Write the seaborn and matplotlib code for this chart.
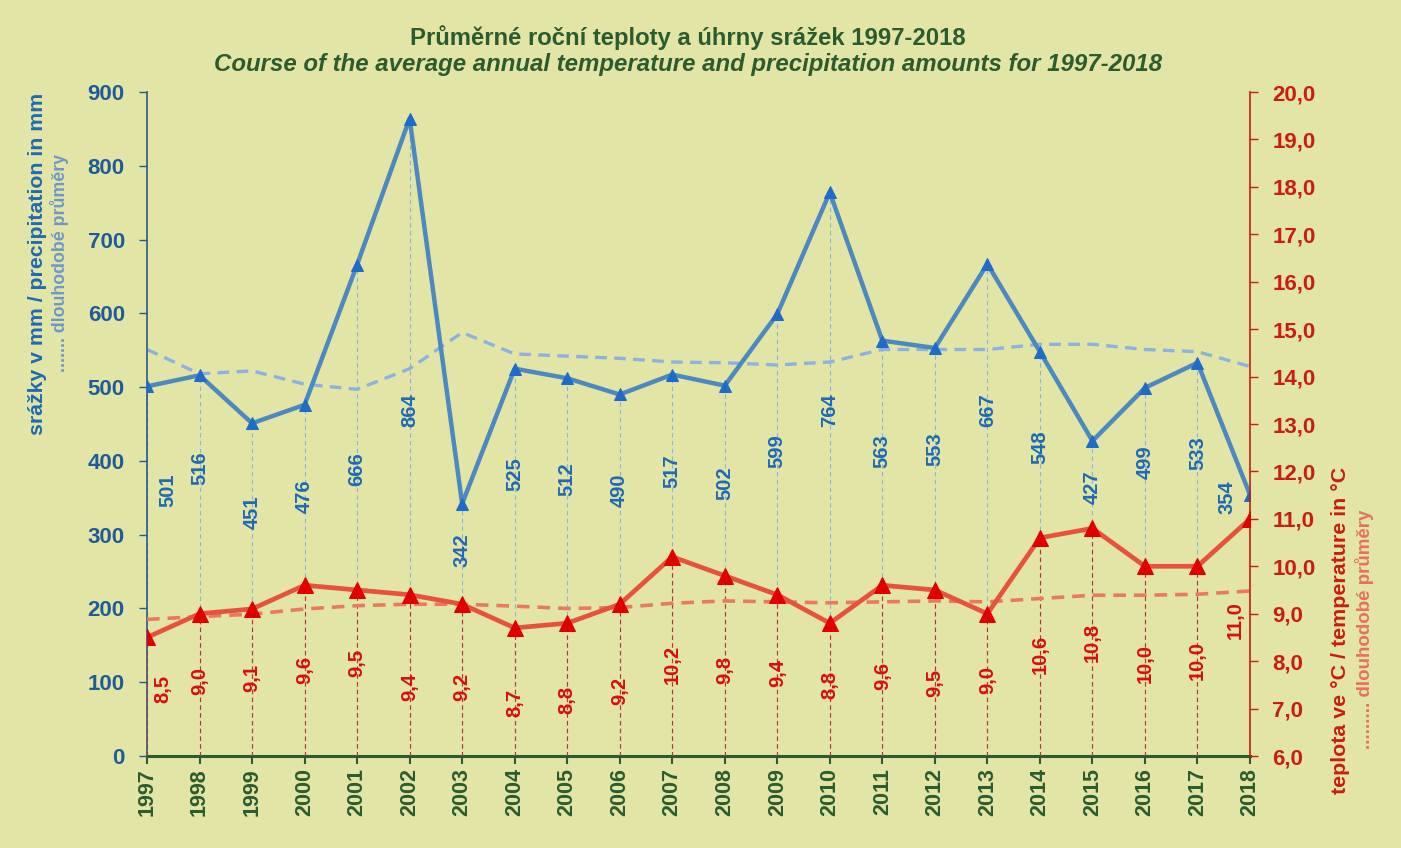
import matplotlib
matplotlib.use("Agg")
import matplotlib.pyplot as plt
import seaborn as sns
import pandas as pd
import numpy as np

# ---------------- data ----------------
years = list(range(1997, 2019))
precip = [501, 516, 451, 476, 666, 864, 342, 525, 512, 490, 517, 502,
          599, 764, 563, 553, 667, 548, 427, 499, 533, 354]
precip_longterm = [551, 518, 522, 504, 497, 525, 574, 545, 542, 539, 534, 533,
                   530, 534, 551, 551, 551, 558, 558, 551, 548, 528]
temp = [8.5, 9.0, 9.1, 9.6, 9.5, 9.4, 9.2, 8.7, 8.8, 9.2, 10.2, 9.8,
        9.4, 8.8, 9.6, 9.5, 9.0, 10.6, 10.8, 10.0, 10.0, 11.0]
temp_longterm = [8.88, 8.94, 8.99, 9.10, 9.17, 9.20, 9.20, 9.16, 9.11, 9.13, 9.22, 9.27,
                 9.25, 9.23, 9.25, 9.27, 9.25, 9.32, 9.39, 9.39, 9.41, 9.48]

# label placement (layout only, in axis units)
precip_label_y = [360, 390, 331, 352, 389, 469, 279, 382, 375, 360, 386, 370,
                  413, 469, 413, 416, 469, 419, 365, 398, 411, 351]
temp_label_y = [7.41, 7.58, 7.64, 7.82, 7.96, 7.45, 7.45, 7.12, 7.18, 7.37, 7.92, 7.81,
                7.75, 7.50, 7.69, 7.54, 7.60, 8.15, 8.40, 7.96, 8.02, 8.87]

df = pd.DataFrame({"year": years, "precip": precip, "precip_lt": precip_longterm,
                   "temp": temp, "temp_lt": temp_longterm})

# ---------------- style ----------------
BG = "#E3E5A7"
BLUE_LINE = "#4C89BF"
BLUE_MARK = "#1F6CC8"
BLUE_TEXT = "#1E6AB4"
BLUE_TICK = "#1F5C97"
BLUE_LT = "#8DB2DF"
BLUE_LABEL2 = "#6F97C8"
RED_LINE = "#E5533C"
RED_MARK = "#E00000"
RED_TEXT = "#D80E0E"
RED_TICK = "#C81D10"
RED_LT = "#E87A5E"
RED_DROP = "#B83030"
RED_LABEL2 = "#E8705F"
GREEN = "#2B5B2F"

sns.set_style("white")
plt.rcParams["font.family"] = ["Liberation Sans", "DejaVu Sans"]

fig = plt.figure(figsize=(14.01, 8.48), dpi=100, facecolor=BG)
ax = fig.add_axes([147 / 1401, 92 / 848, (1250 - 147) / 1401, (756 - 92) / 848])
ax.set_facecolor(BG)
ax2 = ax.twinx()

# drop lines
ax.vlines(df["year"], 0, df["precip"], colors=BLUE_LT, linestyles=(0, (4, 3)), lw=0.8, zorder=1)
ax2.vlines(df["year"], 6, df["temp"], colors=RED_DROP, linestyles=(0, (4, 3)), lw=0.8, zorder=1)

# precipitation
sns.lineplot(data=df, x="year", y="precip_lt", ax=ax, color=BLUE_LT, lw=2.4, zorder=2)
ax.lines[-1].set_linestyle((0, (3.5, 2.2)))
sns.lineplot(data=df, x="year", y="precip", ax=ax, color=BLUE_LINE, lw=3.2, zorder=3,
             marker="^", markersize=8, markerfacecolor=BLUE_MARK, markeredgecolor=BLUE_MARK)

# temperature
sns.lineplot(data=df, x="year", y="temp_lt", ax=ax2, color=RED_LT, lw=2.6, zorder=2)
ax2.lines[-1].set_linestyle((0, (3.5, 2.2)))
sns.lineplot(data=df, x="year", y="temp", ax=ax2, color=RED_LINE, lw=3.4, zorder=3,
             marker="^", markersize=12, markerfacecolor=RED_MARK, markeredgecolor=RED_MARK)

# value labels
n = len(years)
for i, (yr, v, ly) in enumerate(zip(years, precip, precip_label_y)):
    dx = 21 if i == 0 else (-23 if i == n - 1 else 0)
    ax.annotate(str(v), xy=(yr, ly), xytext=(dx * 0.72, 0), textcoords="offset points",
                rotation=90, ha="center", va="center", color=BLUE_TEXT,
                fontsize=14.5, fontweight="semibold", zorder=5)
for i, (yr, v, ly) in enumerate(zip(years, temp, temp_label_y)):
    dx = 16 if i == 0 else (-15 if i == n - 1 else 0)
    ax2.annotate(f"{v:.1f}".replace(".", ","), xy=(yr, ly), xytext=(dx * 0.72, 0),
                 textcoords="offset points", rotation=90, ha="center", va="center",
                 color=RED_TEXT, fontsize=14.5, fontweight="semibold", zorder=5)

# axes limits and ticks
ax.set_xlim(1997, 2018)
ax.set_ylim(0, 900)
ax2.set_ylim(6, 20)
ax.set_xticks(years)
ax.set_xticklabels([str(y) for y in years], rotation=90, fontsize=15.5,
                   fontweight="bold", color=GREEN)
ax.set_yticks(range(0, 901, 100))
ax.set_yticklabels([str(v) for v in range(0, 901, 100)], fontsize=16,
                   fontweight="bold", color=BLUE_TICK)
t_ticks = list(range(6, 21))
ax2.set_yticks(t_ticks)
ax2.set_yticklabels([f"{t},0" for t in t_ticks], fontsize=16,
                    fontweight="bold", color=RED_TICK)

ax.tick_params(axis="x", direction="out", length=6, width=1.5, color=GREEN, pad=3, bottom=True)
ax.tick_params(axis="y", direction="out", length=6, width=1, color=BLUE_TICK, pad=10, left=True)
ax2.tick_params(axis="y", direction="out", length=6, width=1, color=RED_TICK, pad=10, right=True)

for a in (ax, ax2):
    a.set_xlabel("")
    a.set_ylabel("")
    a.spines["top"].set_visible(False)
    a.grid(False)
ax.spines["right"].set_visible(False)
ax2.spines["left"].set_visible(False)
ax2.spines["bottom"].set_visible(False)
ax.spines["left"].set_color("#2A5A86")
ax.spines["left"].set_linewidth(1.2)
ax.spines["bottom"].set_color(GREEN)
ax.spines["bottom"].set_linewidth(2.2)
ax2.spines["right"].set_color(RED_TICK)
ax2.spines["right"].set_linewidth(1.2)
ax.set_zorder(1)
ax2.set_zorder(2)
ax2.patch.set_visible(False)

# axis titles
fig.text(38 / 1401, 1 - 264 / 848, "srážky v mm / precipitation in mm", rotation=90,
         ha="center", va="center", fontsize=15.3, fontweight="bold", color=BLUE_TEXT)
fig.text(60 / 1401, 1 - 263 / 848, "....... dlouhodobé průměry", rotation=90,
         ha="center", va="center", fontsize=12.8, fontweight="bold", color=BLUE_LABEL2)
fig.text(1341 / 1401, 1 - 630 / 848, "teplota ve °C / temperature in °C", rotation=90,
         ha="center", va="center", fontsize=15.4, fontweight="bold", color=RED_TICK)
fig.text(1365 / 1401, 1 - 629 / 848, "......... dlouhodobé průměry", rotation=90,
         ha="center", va="center", fontsize=13.5, fontweight="bold", color=RED_LABEL2)

# title
fig.text(688 / 1401, 1 - 38 / 848, "Průměrné roční teploty a úhrny srážek 1997-2018",
         ha="center", va="center", fontsize=17.2, fontweight="bold", color=GREEN)
fig.text(688 / 1401, 1 - 64 / 848,
         "Course of the average annual temperature and precipitation amounts for 1997-2018",
         ha="center", va="center", fontsize=17.3, fontweight="bold", style="italic", color=GREEN)

fig.savefig("out.png", dpi=100, facecolor=BG)
